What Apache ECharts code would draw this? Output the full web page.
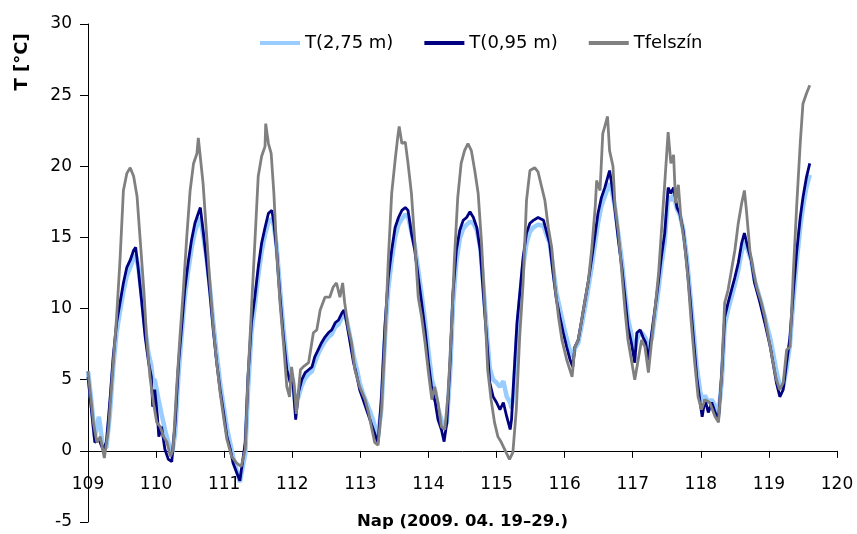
<!DOCTYPE html>
<html>
<head>
<meta charset="utf-8">
<title>T</title>
<script src="https://cdn.jsdelivr.net/npm/echarts@6/dist/echarts.min.js"></script>
<style>
  html, body { margin: 0; padding: 0; background: #fff; }
  #chart { width: 857px; height: 534px; }
</style>
</head>
<body>
<div id="chart"></div>
<script>
// T(2,75 m) - napok es homerseklet
var days275 = [109.00, 109.05, 109.10, 109.16, 109.22, 109.27, 109.32, 109.37, 109.42, 109.47, 109.52, 109.57, 109.62, 109.67, 109.70, 109.74, 109.79, 109.84, 109.89, 109.93, 109.95, 109.98,
  110.02, 110.04, 110.08, 110.13, 110.18, 110.23, 110.28, 110.33, 110.38, 110.42, 110.47, 110.52, 110.57, 110.62, 110.65, 110.69, 110.74, 110.79, 110.84, 110.89, 110.94, 110.99,
  111.04, 111.09, 111.13, 111.23, 111.31, 111.35, 111.40, 111.45, 111.50, 111.55, 111.60, 111.65, 111.70, 111.73, 111.77, 111.82, 111.87, 111.92, 111.97,
  112.01, 112.05, 112.09, 112.14, 112.19, 112.24, 112.29, 112.33, 112.38, 112.43, 112.48, 112.53, 112.58, 112.63, 112.68, 112.73, 112.76, 112.80, 112.85, 112.90, 112.95, 112.99,
  113.04, 113.09, 113.14, 113.19, 113.24, 113.26, 113.31, 113.36, 113.41, 113.46, 113.51, 113.56, 113.61, 113.66, 113.70, 113.75, 113.80, 113.85, 113.90, 113.95,
  114.00, 114.05, 114.10, 114.14, 114.19, 114.23, 114.27, 114.32, 114.36, 114.41, 114.46, 114.51, 114.56, 114.61, 114.66, 114.71, 114.76, 114.81, 114.86, 114.90, 114.95,
  115.00, 115.05, 115.10, 115.15, 115.20, 115.22, 115.25, 115.30, 115.34, 115.39, 115.44, 115.49, 115.54, 115.61, 115.69, 115.74, 115.78, 115.83, 115.88, 115.93, 115.98,
  116.03, 116.08, 116.12, 116.15, 116.20, 116.25, 116.30, 116.35, 116.40, 116.45, 116.49, 116.54, 116.59, 116.66, 116.69, 116.74, 116.79, 116.84, 116.89, 116.93, 116.98,
  117.03, 117.06, 117.11, 117.15, 117.19, 117.23, 117.28, 117.33, 117.38, 117.42, 117.47, 117.52, 117.56, 117.60, 117.65, 117.69, 117.74, 117.79, 117.84, 117.89, 117.94, 117.99,
  118.02, 118.06, 118.11, 118.16, 118.21, 118.26, 118.31, 118.35, 118.40, 118.45, 118.50, 118.55, 118.60, 118.64, 118.69, 118.74, 118.79, 118.87, 118.94,
  119.02, 119.06, 119.11, 119.16, 119.21, 119.26, 119.31, 119.36, 119.41, 119.46, 119.50, 119.55, 119.60]
var t275 = [5.6, 3.5, 1.0, 2.4, 0.3, 0.2, 2.5, 5.8, 8.3, 9.8, 11.2, 12.3, 12.9, 13.5, 13.8, 12.9, 10.9, 8.6, 6.8, 6.0, 5.0, 5.0,
  4.0, 3.5, 2.6, 1.5, 0.6, -0.3, 1.2, 5.4, 8.4, 10.7, 12.6, 14.2, 15.4, 16.1, 16.4, 15.2, 13.6, 11.5, 9.0, 6.8, 4.8, 3.2,
  1.6, 0.5, -0.4, -2.2, -0.2, 4.2, 8.3, 10.2, 12.3, 14.0, 15.2, 16.1, 16.3, 15.8, 14.4, 11.4, 8.6, 6.3, 5.3,
  5.0, 3.0, 3.8, 4.6, 5.1, 5.4, 5.6, 6.2, 6.8, 7.3, 7.7, 8.0, 8.2, 8.7, 8.9, 9.4, 9.7, 9.2, 8.0, 6.7, 5.7, 4.8,
  4.0, 3.4, 2.8, 2.1, 1.3, 1.0, 3.0, 7.8, 11.4, 13.4, 15.0, 15.9, 16.3, 16.6, 16.5, 15.4, 14.4, 12.7, 11.0, 9.1,
  7.0, 5.0, 4.2, 3.0, 2.2, 1.5, 2.0, 5.6, 10.2, 13.3, 14.9, 15.6, 15.9, 16.1, 16.0, 15.5, 14.3, 11.4, 8.2, 5.8, 5.0,
  4.8, 4.5, 4.9, 3.8, 3.4, 3.0, 4.0, 8.0, 10.4, 12.9, 14.6, 15.4, 15.7, 15.9, 15.8, 15.1, 14.6, 12.9, 11.1, 10.0, 8.9,
  7.9, 7.0, 6.6, 7.2, 7.6, 8.8, 10.1, 11.5, 13.0, 14.7, 16.0, 17.2, 17.9, 18.8, 18.4, 17.1, 15.2, 13.4, 11.1, 9.3, 8.2,
  7.0, 7.8, 8.4, 8.2, 7.9, 7.2, 7.9, 9.6, 11.4, 13.0, 14.7, 17.9, 17.6, 18.0, 17.0, 16.6, 15.6, 13.8, 11.3, 8.6, 5.9, 4.2,
  3.5, 3.9, 3.4, 3.6, 3.2, 2.6, 5.0, 8.8, 9.9, 10.8, 11.7, 12.7, 14.0, 14.7, 14.1, 13.4, 12.0, 10.7, 9.4,
  7.9, 6.9, 5.6, 4.6, 4.5, 5.8, 7.5, 10.6, 13.4, 15.7, 17.1, 18.5, 19.4]

// T(0,95 m)
var days095 = days275
var t095 = [5.2, 2.9, 0.6, 0.8, 0.1, 0.6, 3.4, 6.6, 9.0, 10.4, 11.8, 12.9, 13.4, 14.1, 14.3, 12.7, 10.4, 8.0, 6.2, 5.2, 3.1, 4.3,
  2.4, 1.0, 1.7, 0.1, -0.6, -0.75, 2.0, 6.2, 9.0, 11.3, 13.2, 14.8, 16.0, 16.7, 17.1, 15.5, 13.4, 11.1, 8.5, 6.2, 4.3, 2.7,
  1.0, 0.1, -0.85, -2.1, 0.6, 5.2, 9.0, 10.8, 12.9, 14.6, 15.7, 16.7, 16.9, 16.0, 14.1, 10.8, 8.0, 5.7, 4.8,
  4.8, 2.2, 4.1, 5.0, 5.5, 5.7, 5.9, 6.6, 7.1, 7.6, 8.0, 8.3, 8.5, 9.0, 9.2, 9.7, 9.9, 9.0, 7.6, 6.2, 5.2, 4.3,
  3.6, 2.9, 2.2, 1.5, 0.8, 0.6, 3.8, 8.7, 12.2, 14.1, 15.7, 16.4, 16.9, 17.1, 16.9, 15.3, 14.1, 12.2, 10.4, 8.5,
  6.2, 4.3, 3.4, 2.2, 1.5, 0.65, 2.0, 6.4, 11.1, 14.1, 15.5, 16.2, 16.4, 16.8, 16.4, 15.7, 14.1, 10.8, 7.6, 4.8, 3.8,
  3.4, 2.9, 3.4, 2.4, 1.5, 2.2, 4.8, 9.0, 11.0, 13.6, 15.3, 16.0, 16.2, 16.4, 16.2, 15.3, 14.6, 12.5, 10.6, 9.4, 8.3,
  7.3, 6.4, 5.9, 7.3, 7.8, 9.2, 10.6, 12.0, 13.6, 15.3, 16.7, 17.8, 18.5, 19.7, 18.8, 16.9, 14.8, 12.9, 10.6, 8.7, 7.6,
  6.2, 8.3, 8.5, 8.0, 7.6, 6.4, 8.3, 10.1, 12.0, 13.6, 15.3, 18.5, 18.1, 18.5, 17.1, 16.7, 15.5, 13.4, 10.8, 8.0, 5.2, 3.4,
  2.4, 3.6, 2.7, 3.4, 2.7, 2.2, 5.7, 9.4, 10.4, 11.3, 12.2, 13.2, 14.6, 15.3, 14.3, 13.4, 11.8, 10.4, 9.0,
  7.3, 6.2, 4.8, 3.8, 4.3, 6.2, 8.0, 11.3, 14.1, 16.4, 17.8, 19.2, 20.2]

// Tfelszín
var daysFel = [109.00, 109.08, 109.13, 109.18, 109.24, 109.30, 109.35, 109.42, 109.47, 109.52, 109.57, 109.62, 109.67, 109.72, 109.77, 109.82, 109.86, 109.91, 109.96,
  110.01, 110.06, 110.11, 110.16, 110.21, 110.25, 110.30, 110.35, 110.40, 110.45, 110.50, 110.55, 110.60, 110.62, 110.69, 110.74, 110.79, 110.84, 110.89, 110.94, 110.99,
  111.04, 111.11, 111.18, 111.25, 111.31, 111.35, 111.40, 111.45, 111.50, 111.55, 111.60, 111.61, 111.65, 111.69, 111.73, 111.77, 111.82, 111.87, 111.92, 111.96, 111.99,
  112.03, 112.06, 112.12, 112.16, 112.24, 112.31, 112.36, 112.41, 112.48, 112.55, 112.60, 112.65, 112.70, 112.74, 112.77, 112.82, 112.87, 112.92, 112.99,
  113.07, 113.12, 113.17, 113.21, 113.26, 113.31, 113.36, 113.41, 113.46, 113.51, 113.55, 113.57, 113.61, 113.66, 113.70, 113.75, 113.80, 113.85, 113.90, 113.95,
  114.00, 114.05, 114.09, 114.14, 114.19, 114.24, 114.29, 114.34, 114.38, 114.43, 114.48, 114.53, 114.58, 114.63, 114.68, 114.73, 114.78, 114.83, 114.87, 114.92, 114.97,
  115.02, 115.07, 115.14, 115.19, 115.24, 115.29, 115.34, 115.39, 115.44, 115.49, 115.56, 115.61, 115.66, 115.71, 115.76, 115.81, 115.86, 115.91, 115.96,
  116.03, 116.11, 116.15, 116.20, 116.25, 116.30, 116.35, 116.40, 116.45, 116.47, 116.52, 116.56, 116.59, 116.63, 116.66, 116.71, 116.74, 116.79, 116.84, 116.89, 116.93, 116.98,
  117.03, 117.08, 117.13, 117.18, 117.23, 117.28, 117.33, 117.38, 117.42, 117.47, 117.52, 117.56, 117.60, 117.63, 117.67, 117.71, 117.76, 117.81, 117.86, 117.91, 117.96,
  118.01, 118.06, 118.13, 118.21, 118.26, 118.31, 118.35, 118.40, 118.45, 118.50, 118.55, 118.60, 118.64, 118.67, 118.72, 118.77, 118.82, 118.89, 118.94,
  119.02, 119.06, 119.11, 119.16, 119.21, 119.26, 119.31, 119.36, 119.41, 119.46, 119.50, 119.55, 119.60]
var tFel = [5.6, 2.0, 0.6, 1.0, -0.5, 1.5, 4.8, 9.4, 13.4, 18.3, 19.5, 19.9, 19.3, 17.9, 14.6, 11.3, 8.0, 5.2, 3.4,
  2.0, 1.7, 1.0, 0.6, -0.4, 0.1, 4.3, 8.0, 11.3, 15.0, 18.3, 20.2, 20.9, 22.0, 18.8, 15.3, 11.8, 8.7, 6.2, 4.1, 2.4,
  0.8, -0.4, -0.85, -1.1, 0.1, 5.2, 9.9, 14.6, 19.3, 20.7, 21.4, 23.0, 21.6, 20.9, 18.1, 14.1, 10.4, 7.6, 4.5, 3.8, 5.9,
  4.5, 2.6, 5.7, 5.9, 6.2, 8.3, 8.5, 9.9, 10.8, 10.8, 11.5, 11.8, 10.8, 11.8, 10.4, 8.7, 7.6, 5.7, 4.5,
  3.6, 2.7, 1.5, 0.6, 0.4, 2.9, 7.6, 13.4, 18.1, 20.4, 22.1, 22.8, 21.6, 21.7, 20.2, 18.1, 14.6, 10.8, 9.4, 7.6,
  5.5, 3.6, 4.5, 3.4, 1.7, 1.5, 4.1, 8.7, 13.4, 17.8, 20.2, 21.1, 21.6, 21.1, 19.7, 18.1, 14.6, 9.9, 5.7, 3.6, 2.0,
  1.0, 0.6, -0.1, -0.6, -0.1, 2.9, 8.0, 11.8, 17.6, 19.7, 19.9, 19.6, 18.6, 17.6, 15.7, 14.3, 11.5, 9.4, 7.8,
  6.4, 5.2, 7.3, 7.8, 9.2, 10.6, 12.0, 14.3, 17.2, 19.0, 18.3, 22.3, 22.8, 23.5, 21.1, 20.0, 17.2, 15.3, 12.5, 9.7, 7.8, 6.4,
  5.0, 6.4, 7.8, 7.3, 5.5, 7.8, 10.1, 12.5, 15.3, 18.8, 22.4, 20.2, 20.8, 17.4, 18.7, 16.2, 14.6, 12.2, 9.0, 6.2, 3.8,
  2.9, 3.6, 3.4, 2.4, 2.0, 5.7, 10.4, 11.3, 12.7, 14.1, 16.0, 17.4, 18.3, 16.9, 14.1, 12.7, 11.5, 10.4, 9.4,
  7.3, 6.2, 5.0, 4.3, 4.8, 7.1, 7.3, 12.7, 17.4, 21.6, 24.4, 25.1, 25.7]

var seriesNames = ['T(2,75 m)', 'T(0,95 m)', 'Tfelszín']
var seriesColors = ['#99CCFF', '#000080', '#808080']

function pairs (xs, ys) {
  return xs.map(function (x, i) { return [x, ys[i]] })
}

var fontFam = '"DejaVu Sans", "Liberation Sans", Arial, sans-serif'
var gridTop = 24
var gridBottom = 12
var yMin = -5
var yMax = 30
// x tengely a 0 foknal: a grid aljatol felfele toljuk
var zeroOffset = -(534 - gridTop - gridBottom) / (yMax - yMin) * (0 - yMin)

var myChart = echarts.init(document.getElementById('chart'))
myChart.setOption({
  animation: false,
  backgroundColor: '#fff',
  textStyle: { fontFamily: fontFam, color: '#000' },
  grid: {
    left: 88,
    right: 20,
    top: gridTop,
    bottom: gridBottom,
    containLabel: false,
    outerBoundsMode: 'none'
  },
  legend: {
    left: 255,
    top: 29,
    icon: 'rect',
    itemWidth: 40,
    itemHeight: 4,
    itemGap: 31,
    textStyle: { fontSize: 18, fontFamily: fontFam, color: '#000' },
    data: seriesNames
  },
  xAxis: {
    type: 'value',
    min: 109,
    max: 120,
    interval: 1,
    position: 'bottom',
    offset: zeroOffset,
    axisLine: { onZero: false, lineStyle: { color: '#000', width: 1 } },
    axisTick: { show: true, length: 7, lineStyle: { color: '#000' } },
    axisLabel: { fontSize: 17, color: '#000', margin: 25 },
    splitLine: { show: false },
    name: 'Nap (2009. 04. 19–29.)',
    nameLocation: 'middle',
    nameGap: 62,
    nameTextStyle: { fontSize: 16.5, fontWeight: 'bold', color: '#000' }
  },
  yAxis: {
    type: 'value',
    min: yMin,
    max: yMax,
    interval: 5,
    axisLine: { show: true, lineStyle: { color: '#000', width: 1 } },
    axisTick: { show: true, length: 8, lineStyle: { color: '#000' } },
    axisLabel: { fontSize: 17, color: '#000', margin: 16 },
    splitLine: { show: false }
  },
  graphic: [
    {
      type: 'text',
      x: 22,
      y: 62,
      rotation: Math.PI / 2,
      style: {
        text: 'T [°C]',
        font: 'bold 18px ' + fontFam,
        fill: '#000',
        align: 'center',
        verticalAlign: 'middle'
      }
    }
  ],
  series: [
    {
      name: seriesNames[0],
      type: 'line',
      showSymbol: false,
      data: pairs(days275, t275),
      itemStyle: { color: seriesColors[0] },
      lineStyle: { width: 4.5, color: seriesColors[0] },
      z: 1
    },
    {
      name: seriesNames[1],
      type: 'line',
      showSymbol: false,
      data: pairs(days095, t095),
      itemStyle: { color: seriesColors[1] },
      lineStyle: { width: 2.8, color: seriesColors[1] },
      z: 2
    },
    {
      name: seriesNames[2],
      type: 'line',
      showSymbol: false,
      data: pairs(daysFel, tFel),
      itemStyle: { color: seriesColors[2] },
      lineStyle: { width: 2.8, color: seriesColors[2] },
      z: 3
    }
  ]
})
</script>
</body>
</html>
